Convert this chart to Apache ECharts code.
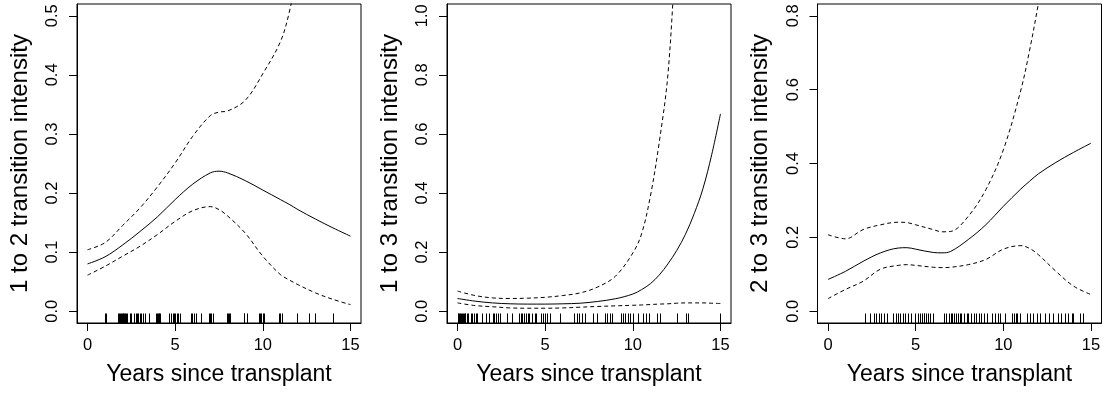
<!DOCTYPE html>
<html>
<head>
<meta charset="utf-8">
<script src="https://cdn.jsdelivr.net/npm/echarts@6/dist/echarts.min.js"></script>
<style>
html,body{margin:0;padding:0;background:#fff;}
#chart{width:1109px;height:394px;}
</style>
</head>
<body>
<div id="chart"></div>
<script>
// ---------- data ----------
const xTicks = [0, 5, 10, 15];
const xTitle = 'Years since transplant';

// Panel 1: 1 to 2
const yTitle1 = '1 to 2 transition intensity';
const yTicks1 = [0, 0.1, 0.2, 0.3, 0.4, 0.5];
const years1 = [0, 1, 2, 3, 4, 5, 6, 7, 7.5, 8, 9, 10, 11, 11.5, 12, 13, 14, 15];
const fit1   = [0.080, 0.092, 0.112, 0.135, 0.160, 0.189, 0.215, 0.234, 0.237, 0.234, 0.221, 0.205, 0.189, 0.181, 0.172, 0.156, 0.141, 0.127];
const upper1 = [0.104, 0.116, 0.145, 0.175, 0.211, 0.251, 0.296, 0.331, 0.337, 0.339, 0.357, 0.402, 0.456, 0.505, 0.58, 0.75, 0.95, 1.2];
const lower1 = [0.061, 0.076, 0.093, 0.110, 0.130, 0.152, 0.170, 0.177, 0.172, 0.161, 0.132, 0.093, 0.062, 0.053, 0.045, 0.031, 0.020, 0.011];
const rug1 = [1.02, 1.05, 1.75, 1.8, 1.85, 1.9, 1.95, 2.0, 2.05, 2.1, 2.15, 2.2, 2.25, 2.4, 2.5, 2.65, 2.75, 2.85, 2.9, 3.0, 3.05, 3.15, 3.3, 3.5, 3.9, 3.95, 4.0, 4.05, 4.1, 4.15, 4.65, 4.75, 4.85, 4.95, 5.0, 5.1, 5.15, 5.3, 5.9, 5.95, 6.05, 6.2, 6.45, 6.95, 7.0, 7.05, 7.15, 7.95, 8.0, 8.05, 8.15, 8.9, 8.95, 9.1, 9.8, 9.85, 9.9, 10.0, 10.05, 10.9, 11.0, 11.1, 11.95, 12.65, 13.0, 14.0];

// Panel 2: 1 to 3
const yTitle2 = '1 to 3 transition intensity';
const yTicks2 = [0, 0.2, 0.4, 0.6, 0.8, 1.0];
const years2 = [0, 1, 2, 3, 4, 5, 6, 7, 8, 9, 10, 10.5, 11, 11.5, 12, 12.5, 13, 13.5, 14, 14.5, 15];
const fit2   = [0.043, 0.034, 0.028, 0.025, 0.024, 0.024, 0.025, 0.027, 0.033, 0.042, 0.058, 0.073, 0.093, 0.122, 0.160, 0.205, 0.260, 0.330, 0.415, 0.530, 0.668];
const upper2 = [0.068, 0.053, 0.045, 0.043, 0.044, 0.047, 0.053, 0.062, 0.082, 0.118, 0.197, 0.262, 0.389, 0.569, 0.800, 1.25, 1.6, 2.0, 2.4, 2.9, 3.5];
const lower2 = [0.028, 0.019, 0.015, 0.011, 0.010, 0.010, 0.011, 0.0135, 0.016, 0.018, 0.020, 0.021, 0.0225, 0.024, 0.025, 0.027, 0.028, 0.028, 0.028, 0.027, 0.026];
const rug2 = [0.02, 0.05, 0.1, 0.15, 0.2, 0.25, 0.3, 0.35, 0.4, 0.45, 0.55, 0.6, 0.75, 0.85, 0.95, 1.05, 1.1, 1.4, 1.6, 1.8, 2.0, 2.1, 2.2, 2.3, 2.45, 2.8, 3.1, 3.5, 3.6, 3.7, 3.8, 3.9, 4.0, 4.1, 4.25, 4.4, 4.5, 4.75, 4.85, 5.0, 5.1, 5.3, 5.85, 6.65, 6.8, 6.95, 7.1, 7.3, 7.75, 7.95, 8.4, 8.5, 8.7, 8.8, 9.3, 9.45, 9.55, 9.75, 9.85, 10.0, 10.3, 10.6, 10.75, 10.95, 11.4, 11.55, 12.5, 13.05, 13.15, 14.95];

// Panel 3: 2 to 3
const yTitle3 = '2 to 3 transition intensity';
const yTicks3 = [0, 0.2, 0.4, 0.6, 0.8];
const years3 = [0, 1, 2, 3, 4, 4.5, 5, 6, 6.5, 7, 8, 9, 10, 11, 11.5, 12, 13, 14, 15];
const fit3   = [0.086, 0.108, 0.135, 0.158, 0.171, 0.172, 0.168, 0.159, 0.158, 0.162, 0.194, 0.234, 0.284, 0.331, 0.352, 0.372, 0.403, 0.430, 0.455];
const upper3 = [0.207, 0.196, 0.221, 0.234, 0.241, 0.240, 0.234, 0.221, 0.215, 0.216, 0.257, 0.329, 0.437, 0.599, 0.707, 0.833, 1.1, 1.5, 2.0];
const lower3 = [0.034, 0.059, 0.081, 0.114, 0.124, 0.126, 0.124, 0.119, 0.118, 0.119, 0.126, 0.140, 0.168, 0.1775, 0.170, 0.153, 0.108, 0.068, 0.045];
const rug3 = [2.1, 2.4, 2.65, 2.75, 2.9, 3.05, 3.2, 3.35, 3.7, 3.85, 4.0, 4.1, 4.25, 4.4, 4.55, 4.75, 4.95, 5.15, 5.25, 5.35, 5.45, 5.5, 5.6, 5.7, 5.8, 6.0, 6.6, 6.75, 6.9, 7.0, 7.1, 7.2, 7.3, 7.4, 7.5, 7.6, 7.75, 7.9, 8.0, 8.15, 8.3, 8.45, 8.6, 8.75, 8.9, 9.05, 9.35, 9.55, 9.7, 9.8, 10.1, 10.5, 10.6, 10.7, 10.8, 10.95, 11.35, 11.5, 11.7, 11.9, 12.1, 12.4, 12.6, 12.85, 13.1, 13.3, 13.5, 13.7, 13.9, 14.0, 14.4, 14.55];

// ---------- build ----------
const FONT = 'Liberation Sans, Arial, Helvetica, sans-serif';
const panels = [
  {left: 77,  yTitle: yTitle1, yTicks: yTicks1, xs: years1, fit: fit1, up: upper1, lo: lower1, rug: rug1},
  {left: 447, yTitle: yTitle2, yTicks: yTicks2, xs: years2, fit: fit2, up: upper2, lo: lower2, rug: rug2},
  {left: 817.5, yTitle: yTitle3, yTicks: yTicks3, xs: years3, fit: fit3, up: upper3, lo: lower3, rug: rug3}
];

const grid = [], xAxis = [], yAxis = [], series = [];
panels.forEach((p, i) => {
  const top = p.yTicks[p.yTicks.length - 1];
  const yMin = -0.04 * top, yMax = 1.04 * top;
  grid.push({left: p.left, top: 4, width: 284, height: 319, show: true, borderColor: '#000', borderWidth: 1, backgroundColor: 'transparent'});
  xAxis.push({
    type: 'value', gridIndex: i, min: -0.6, max: 15.6,
    name: xTitle, nameLocation: 'middle', nameGap: 40,
    nameTextStyle: {fontSize: 23, color: '#000', fontFamily: FONT},
    axisLine: {show: true, onZero: false, lineStyle: {color: '#000', width: 1}},
    axisTick: {show: true, customValues: xTicks, length: 8, lineStyle: {color: '#000', width: 1}},
    axisLabel: {customValues: xTicks, fontSize: 16.5, color: '#000', margin: 14, fontFamily: FONT},
    splitLine: {show: false}
  });
  yAxis.push({
    type: 'value', gridIndex: i, min: yMin, max: yMax,
    name: p.yTitle, nameLocation: 'middle', nameGap: 45, nameRotate: 90,
    nameTextStyle: {fontSize: 24, color: '#000', fontFamily: FONT},
    axisLine: {show: true, onZero: false, lineStyle: {color: '#000', width: 1}},
    axisTick: {show: true, customValues: p.yTicks, length: 8, lineStyle: {color: '#000', width: 1}},
    axisLabel: {customValues: p.yTicks, rotate: 90, fontSize: 16.5, color: '#000', margin: 16, fontFamily: FONT,
      formatter: v => Number(v).toFixed(1)},
    splitLine: {show: false}
  });
  const mk = (arr, dashed) => ({
    type: 'line', xAxisIndex: i, yAxisIndex: i, showSymbol: false, symbol: 'none',
    smooth: 0.35, clip: true, animation: false,
    data: p.xs.map((x, k) => [x, arr[k]]),
    lineStyle: {color: '#000', width: 1, type: dashed ? [4, 3] : 'solid'}
  });
  series.push(mk(p.fit, false), mk(p.up, true), mk(p.lo, true));
  series.push({
    type: 'custom', xAxisIndex: i, yAxisIndex: i, animation: false,
    data: p.rug.map(v => [v, 0]),
    renderItem: (params, api) => {
      const pt = api.coord([api.value(0), yMin]);
      const x = Math.round(pt[0]) + 0.5;
      return {type: 'line', shape: {x1: x, y1: pt[1], x2: x, y2: pt[1] - 9.5},
        style: {stroke: '#000', lineWidth: 1}};
    }
  });
});

const chart = echarts.init(document.getElementById('chart'), null, {renderer: 'canvas'});
chart.setOption({animation: false, backgroundColor: '#fff', grid, xAxis, yAxis, series});
</script>
</body>
</html>
